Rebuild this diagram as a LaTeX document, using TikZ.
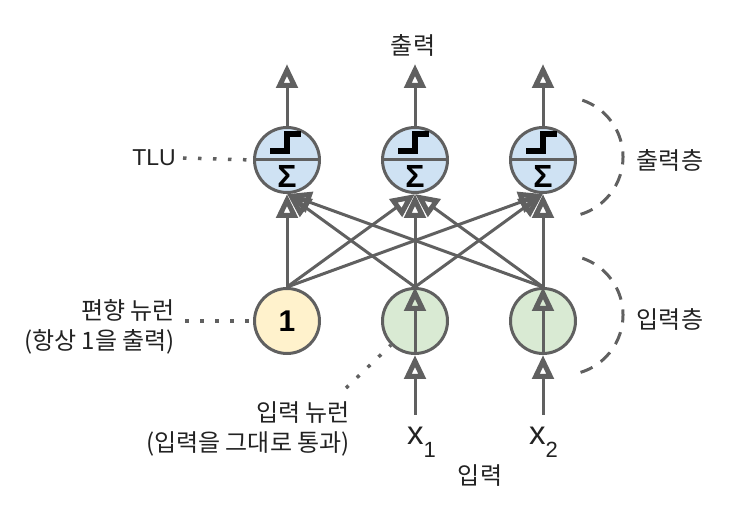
\documentclass[tikz,border=0pt]{standalone}
\usepackage{fontspec}
\setmainfont{Noto Sans CJK KR}
\newfontfamily\latin{Liberation Sans}
\usetikzlibrary{arrows.meta,calc}
\definecolor{strk}{HTML}{606060}
\definecolor{txt}{HTML}{222222}
\definecolor{blueF}{HTML}{CFE2F3}
\definecolor{greenF}{HTML}{D9EAD3}
\definecolor{yellowF}{HTML}{FFF2CC}
\begin{document}
\begin{tikzpicture}[x=1pt,y=-1pt,
  neuron/.style={circle,draw=strk,line width=3pt,minimum size=65pt,inner sep=0pt},
  conn/.style={draw=strk,line width=3pt,-{Triangle[open,length=24pt,width=21pt,line width=5pt]}},
  dotline/.style={draw=strk,line width=3.5pt,dash pattern=on 3.5pt off 11.5pt},
  layerarc/.style={draw=strk,line width=3pt,dash pattern=on 13pt off 10pt},
  lbl/.style={text=txt,inner sep=0pt,font=\fontsize{24}{30}\selectfont},
  stepsym/.style={draw=black,line width=5.5pt,line join=miter},
  sigma/.style={text=black,inner sep=0pt,font=\latin\bfseries\fontsize{32}{32}\selectfont}
]
\useasboundingbox (0,0) rectangle (734,518);

% output neurons
\foreach \n/\x in {o1/287,o2/415,o3/543}{
  \node[neuron,fill=blueF] (\n) at (\x,160) {};
  \draw[strk,line width=3pt] (\n.west) -- (\n.east);
  \draw[stepsym] ($(\n)+(-17,-9)$) -- ++(17,0) -- ++(0,-17) -- ++(14,0);
  \node[sigma] (\n s) at ($(\n)+(0,16)$) {Σ};
}

% input neurons
\node[neuron,fill=yellowF] (b) at (287,321) {};
\node[text=black,inner sep=0pt,font=\latin\bfseries\fontsize{30}{30}\selectfont] (bone) at (b) {1};
\node[neuron,fill=greenF] (i1) at (415,321) {};
\node[neuron,fill=greenF] (i2) at (543,321) {};

% connections to output layer
\foreach \s in {b,i1,i2}{
  \foreach \t in {o1,o2,o3}{
    \draw[conn] (\s.north) -- (\t.south);
  }
}

% output arrows
\coordinate (t1) at (287,64);
\coordinate (t2) at (415,64);
\coordinate (t3) at (543,64);
\draw[conn] (o1.north) -- (t1);
\draw[conn] (o2.north) -- (t2);
\draw[conn] (o3.north) -- (t3);
\node[lbl] (outl) at (413,45) {출력};

% input arrows
\coordinate (x1) at (415,415);
\coordinate (x2) at (543,415);
\draw[conn] (x1) -- (i1.south);
\draw[conn] (i1.south) -- (i1.north);
\draw[conn] (x2) -- (i2.south);
\draw[conn] (i2.south) -- (i2.north);

\node[anchor=base west,inner sep=0pt,text=txt,font=\latin\fontsize{33}{33}\selectfont] (lx1) at (407,445)
  {x\raisebox{-13pt}{\fontsize{22}{22}\selectfont 1}};
\node[anchor=base west,inner sep=0pt,text=txt,font=\latin\fontsize{33}{33}\selectfont] (lx2) at (529,445)
  {x\raisebox{-13pt}{\fontsize{22}{22}\selectfont 2}};
\node[lbl] (inl) at (480,476) {입력};

% layer arcs
\coordinate (c1) at (563,157);
\coordinate (c2) at (563,315);
\draw[layerarc] (c1) ++(73:60) arc[start angle=73,end angle=-73,radius=60];
\draw[layerarc] (c2) ++(73:60) arc[start angle=73,end angle=-73,radius=60];
\node[lbl] (outlayer) at (670,160) {출력층};
\node[lbl] (inlayer) at (670,320) {입력층};

% annotations
\node[lbl,anchor=east,font=\latin\fontsize{23}{27}\selectfont] (tlu) at (176,158) {TLU};
\coordinate (d1) at (183,158);
\draw[dotline] (d1) -- (o1.west);

\node[lbl,anchor=east,align=right] (biasl) at (175,327) {편향 뉴런\\(항상 1을 출력)};
\coordinate (d2) at (185,321);
\draw[dotline] (d2) -- (b.west);

\node[lbl,anchor=east,align=right] (inneur) at (350,429) {입력 뉴런\\(입력을 그대로 통과)};
\coordinate (d3) at (346,388);
\draw[dotline] (d3) -- (i1.225);
\end{tikzpicture}
\end{document}
